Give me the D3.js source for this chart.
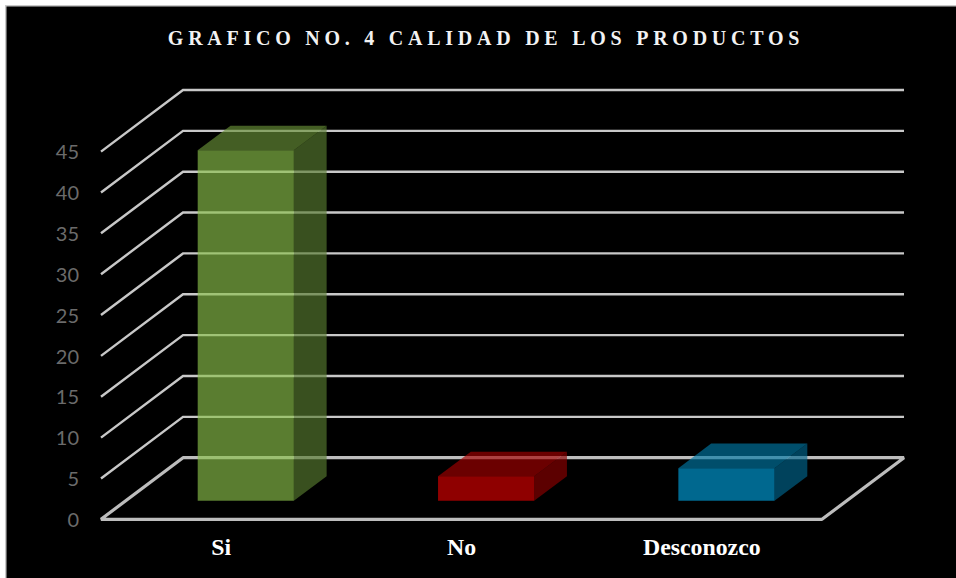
<!DOCTYPE html>
<html><head><meta charset="utf-8">
<style>html,body{margin:0;padding:0;background:#fff}svg{display:block}</style>
<script src="https://cdn.jsdelivr.net/npm/d3@7/dist/d3.min.js"></script>
</head><body><svg id="c" width="956" height="578"></svg>
<script>
const title = "GRAFICO NO. 4 CALIDAD DE LOS PRODUCTOS";
const categories = ["Si", "No", "Desconozco"];
const values = [42.9, 3, 4];
const barColors = ["#8ac04a", "#dc0000", "#00a0dc"];
const yTicks = [0, 5, 10, 15, 20, 25, 30, 35, 40, 45];

const svg = d3.select("#c");
const W = 956, H = 578;
const floorLeft = 101, floorRight = 822, floorY = 519.3, topY = 151.6;
const depthX = 82, depthY = -61.6;

const x = d3.scaleBand().domain(categories).range([floorLeft, floorRight]).paddingInner(0.6).paddingOuter(0.3);
const y = d3.scaleLinear().domain([0, 45]).range([floorY, topY]);
const depth = d3.scaleLinear().domain([0, 1]).range([0, 1]);
const px = (xv, d) => xv + depth(d) * depthX;
const py = (yv, d) => yv + depth(d) * depthY;
const line = d3.line();

svg.append("rect").attr("width", W).attr("height", H).attr("fill", "#000");
svg.append("path").attr("fill", "#fff").attr("d", `M0 0H${W}V5H6V${H}H0Z`);
svg.append("path").attr("fill", "#c8c8c8").attr("d", `M5 5H${W}V6.5H6.5V${H}H5Z`);

// walls
const grid = svg.append("g").attr("fill", "none").attr("stroke", "#c8c8c8");
yTicks.filter(t => t > 0).forEach(t => {
  grid.append("path").attr("stroke-width", 2.4)
    .attr("d", line([[px(floorLeft, 0), py(y(t), 0)], [px(floorLeft, 1), py(y(t), 1)], [px(floorRight, 1), py(y(t), 1)]]));
});
// floor
grid.append("path").attr("stroke-width", 3.2).attr("stroke", "#bdbdbd").attr("stroke-linejoin", "bevel")
  .attr("d", line([[px(floorLeft, 0), py(y(0), 0)], [px(floorRight, 0), py(y(0), 0)], [px(floorRight, 1), py(y(0), 1)], [px(floorLeft, 1), py(y(0), 1)]]) + "Z");

// bars
const d0 = 0.3, d1 = 0.7;
const bars = svg.append("g").selectAll("g").data(categories).join("g").attr("fill-opacity", 0.65);
bars.each(function (c, i) {
  const g = d3.select(this), l = x(c), r = l + x.bandwidth(), v = y(values[i]), b = y(0);
  const col = d3.color(barColors[i]);
  g.append("path").attr("fill", col.darker(1.25))
    .attr("d", line([[px(r, d0), py(v, d0)], [px(r, d1), py(v, d1)], [px(r, d1), py(b, d1)], [px(r, d0), py(b, d0)]]) + "Z");
  g.append("path").attr("fill", col.darker(0.8))
    .attr("d", line([[px(l, d0), py(v, d0)], [px(l, d1), py(v, d1)], [px(r, d1), py(v, d1)], [px(r, d0), py(v, d0)]]) + "Z");
  g.append("path").attr("fill", col)
    .attr("d", line([[px(l, d0), py(v, d0)], [px(r, d0), py(v, d0)], [px(r, d0), py(b, d0)], [px(l, d0), py(b, d0)]]) + "Z");
});

// value axis
const yAxis = svg.append("g").attr("transform", "translate(79,0)")
  .call(d3.axisLeft(y).tickValues(yTicks).tickSize(0).tickPadding(0));
yAxis.select(".domain").remove();
yAxis.selectAll("text").attr("fill", "#6b6b6b").style("font", "20px Lato").attr("dy", "0.36em");

// category axis
const catAxis = svg.append("g").attr("transform", "translate(0,547)");
catAxis.selectAll("text").data(categories).join("text")
  .attr("x", c => x(c) + x.bandwidth() / 2).attr("y", 0).attr("dy", "0.34em")
  .attr("text-anchor", "middle").attr("fill", "#fff")
  .style("font", "bold 23.8px 'Liberation Serif'").text(c => c);

svg.append("text").attr("x", 486).attr("y", 45).attr("text-anchor", "middle")
  .attr("fill", "#f2f2f2").style("font", "bold 20px 'Liberation Serif'").style("letter-spacing", "4.75px")
  .text(title);
</script></body></html>
